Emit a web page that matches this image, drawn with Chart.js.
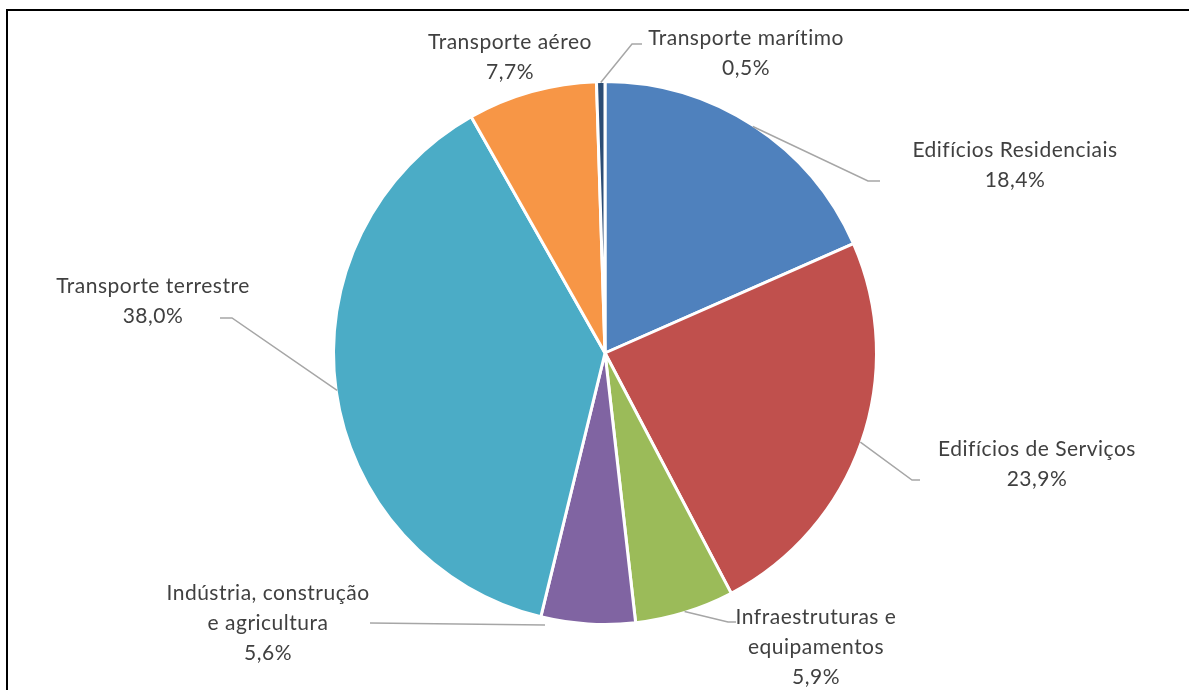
<!DOCTYPE html>
<html>
<head>
<meta charset="utf-8">
<script src="https://cdn.jsdelivr.net/npm/chart.js@4"></script>
<style>
  html, body { margin: 0; padding: 0; background: #fff; }
  #wrap { width: 1189px; height: 690px; position: relative; }
</style>
</head>
<body>
<div id="wrap"><canvas id="pieChart"></canvas></div>
<script>
// data, clockwise from 12 o'clock
const categories = ['Edifícios Residenciais', 'Edifícios de Serviços', 'Infraestruturas e equipamentos',
  'Indústria, construção e agricultura', 'Transporte terrestre', 'Transporte aéreo', 'Transporte marítimo'];
const shares = [18.4, 23.9, 5.9, 5.6, 38.0, 7.7, 0.5];

const sliceColors = ['#4F81BD', '#C0504D', '#9BBB59', '#8064A2', '#4BACC6', '#F79646', '#2C4D75'];

// where each data label sits (text centre of first line) and its leader line
const labelLayout = [
  { lines: ['Edifícios Residenciais'], x: 1015, y: 150, leader: [[868, 181], [880, 181]] },
  { lines: ['Edifícios de Serviços'], x: 1037, y: 449, leader: [[912, 480], [920, 480]] },
  { lines: ['Infraestruturas e', 'equipamentos'], x: 816, y: 617, leader: [[728, 622], [736, 622]] },
  { lines: ['Indústria, construção', 'e agricultura'], x: 268, y: 593, start: [545, 625], leader: [[370, 623]] },
  { lines: ['Transporte terrestre'], x: 153, y: 286, leader: [[232, 318], [220, 318]] },
  { lines: ['Transporte aéreo'], x: 510, y: 42 },
  { lines: ['Transporte marítimo'], x: 746, y: 38, leader: [[632, 44], [642, 44]] }
];

const FONT = '21px Lato, "Open Sans", sans-serif';
const LINE_H = 30;

const fmtPct = v => v.toFixed(1).replace('.', ',') + '%';

const pieLabels = {
  id: 'pieLabels',
  afterDraw(chart) {
    const ctx = chart.ctx;
    const arcs = chart.getDatasetMeta(0).data;
    ctx.save();
    // leader lines
    ctx.strokeStyle = '#A6A6A6';
    ctx.lineWidth = 1.5;
    arcs.forEach((arc, i) => {
      const lay = labelLayout[i];
      if (!lay.leader) return;
      const p = arc.getProps(['x', 'y', 'startAngle', 'endAngle', 'outerRadius'], true);
      const mid = (p.startAngle + p.endAngle) / 2;
      const r = p.outerRadius - 1;
      const start = lay.start || [p.x + Math.cos(mid) * r, p.y + Math.sin(mid) * r];
      ctx.beginPath();
      ctx.moveTo(start[0], start[1]);
      lay.leader.forEach(pt => ctx.lineTo(pt[0], pt[1]));
      ctx.stroke();
    });
    // texts
    ctx.fillStyle = '#404040';
    ctx.font = FONT;
    ctx.letterSpacing = '0.5px';
    ctx.textAlign = 'center';
    ctx.textBaseline = 'middle';
    shares.forEach((v, i) => {
      const lay = labelLayout[i];
      const lines = lay.lines.concat([fmtPct(v)]);
      lines.forEach((t, k) => ctx.fillText(t, lay.x, lay.y + k * LINE_H));
    });
    // chart frame (top and left edges visible)
    ctx.strokeStyle = '#000';
    ctx.lineWidth = 2;
    ctx.beginPath();
    ctx.moveTo(7, 700);
    ctx.lineTo(7, 10);
    ctx.lineTo(1200, 10);
    ctx.stroke();
    ctx.restore();
  }
};

new Chart(document.getElementById('pieChart'), {
  type: 'pie',
  data: {
    labels: categories,
    datasets: [{
      data: shares,
      backgroundColor: sliceColors,
      borderColor: '#FFFFFF',
      borderWidth: 3
    }]
  },
  options: {
    responsive: true,
    maintainAspectRatio: false,
    animation: false,
    layout: { padding: { top: 80, bottom: 64, left: 100, right: 79 } },
    plugins: {
      legend: { display: false },
      tooltip: { enabled: false }
    }
  },
  plugins: [pieLabels]
});
</script>
</body>
</html>
